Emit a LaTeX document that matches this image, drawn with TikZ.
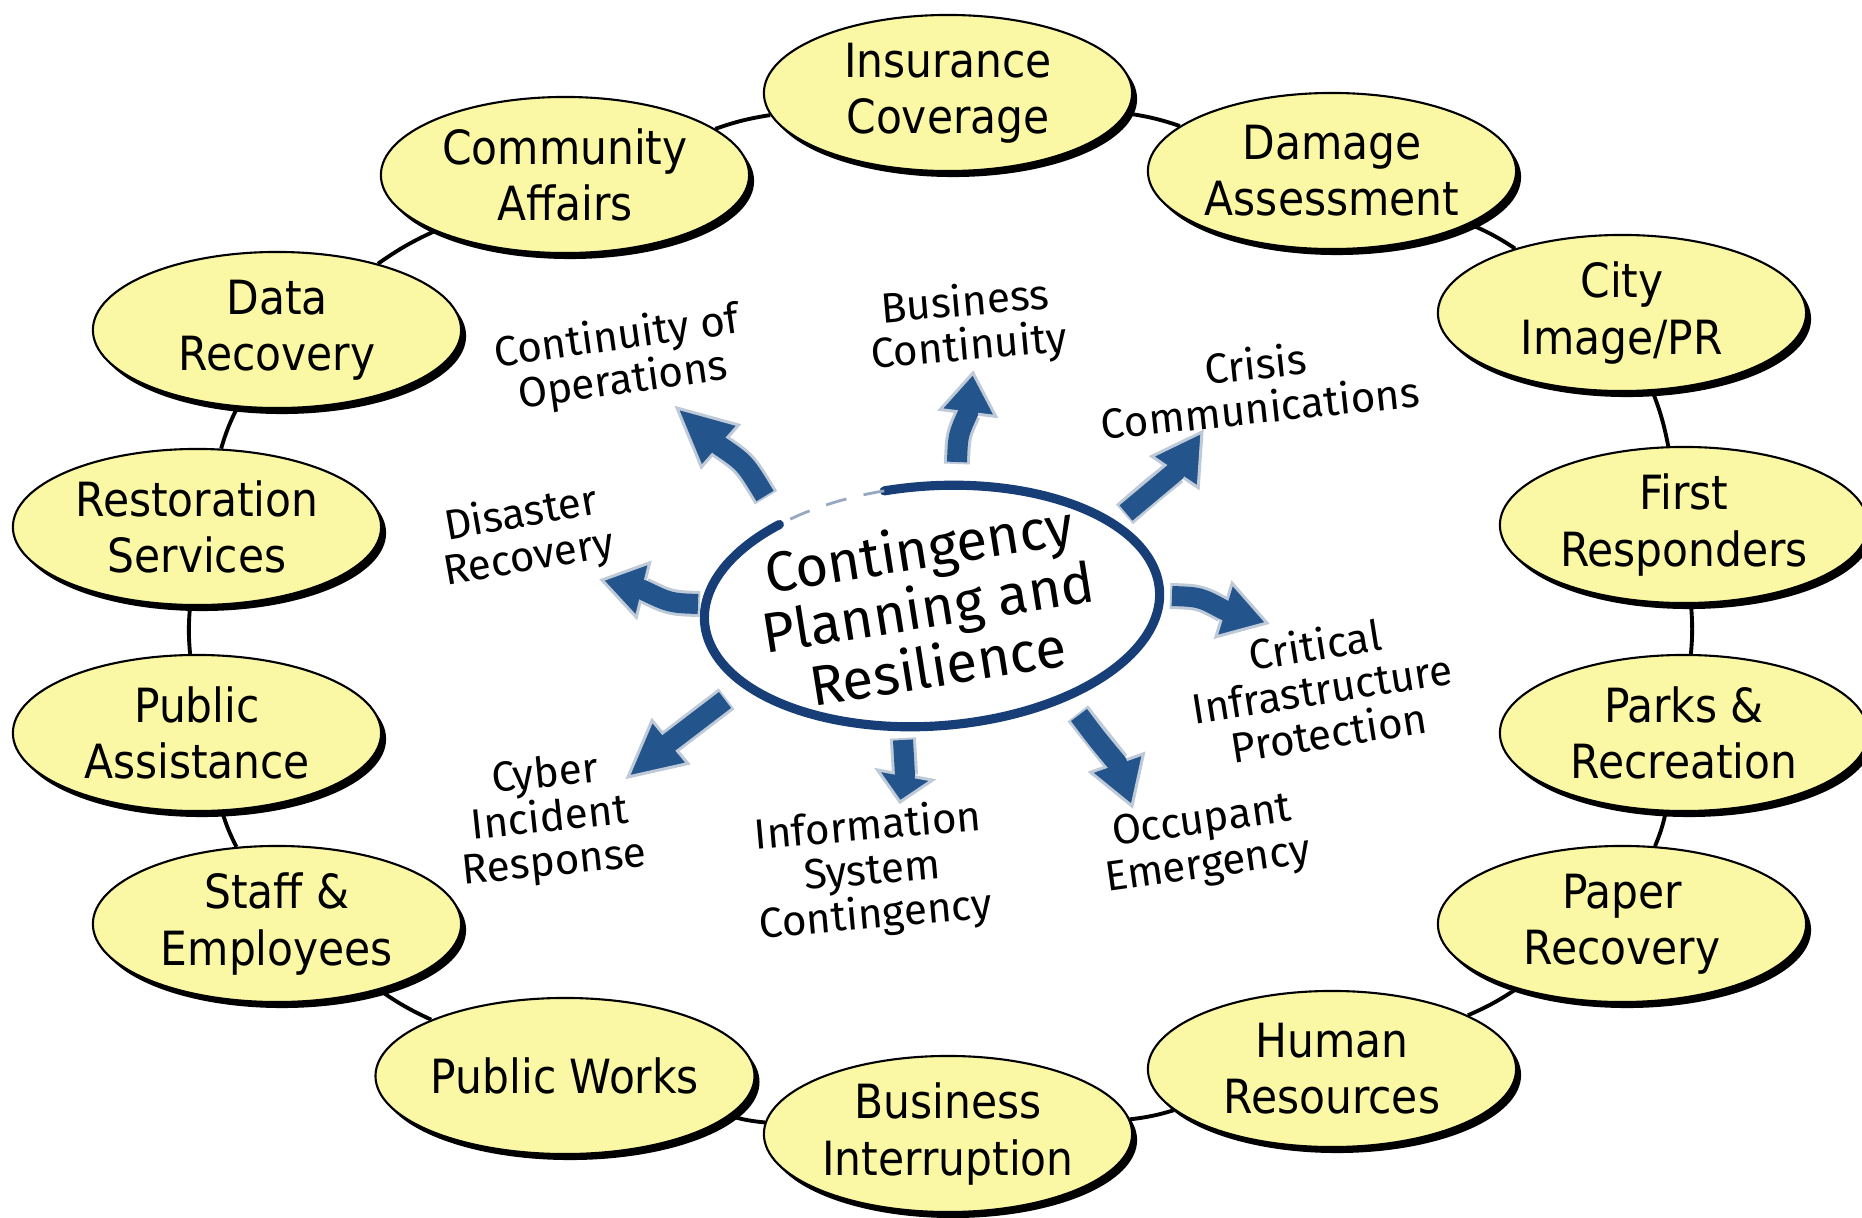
\documentclass[tikz,border=0pt]{standalone}
\usepackage{fontspec}
\setmainfont{DejaVu Sans Condensed}
\newfontfamily\handfont{Fira Sans}
\usetikzlibrary{shapes.geometric,shadows,calc,backgrounds}

\definecolor{bubblefill}{RGB}{250,248,165}
\definecolor{arrowblue}{RGB}{36,84,140}
\definecolor{arrowedge}{RGB}{190,202,215}
\definecolor{hubnavy}{RGB}{24,62,120}

\tikzset{
  bubble/.style={ellipse, draw=black, line width=0.6pt, fill=bubblefill,
    minimum width=3.68cm, minimum height=1.56cm, inner sep=0pt, align=center,
    font=\fontsize{13.4}{16}\selectfont,
    drop shadow={shadow xshift=0.05cm, shadow yshift=-0.06cm, fill=black, opacity=1}},
  ringlink/.style={line width=1.1pt, black, bend left=5},
  hand/.style={align=center, inner sep=0pt, font=\handfont\fontsize{12}{12.6}\selectfont},
}

% curved block arrow: tail, control, head base, tip
\newcommand\blockarrow[4]{%
  \coordinate (bt) at #1;
  \coordinate (bc) at #2;
  \coordinate (bb) at #3;
  \coordinate (bp) at #4;
  \draw[arrowedge, line width=0.26cm, shorten <=-0.02cm] (bt) .. controls (bc) .. (bb);
  \filldraw[fill=arrowblue, draw=arrowedge, line width=0.03cm, line join=miter]
    ($(bb)!0.28cm!90:(bp)$) -- (bp) -- ($(bb)!0.28cm!-90:(bp)$) -- cycle;
  \draw[arrowblue, line width=0.2cm] (bt) .. controls (bc) .. (bb) -- ($(bb)!0.05cm!(bp)$);
}

\begin{document}
\begin{tikzpicture}[x=0.01cm, y=0.01cm]
\useasboundingbox (0,0) rectangle (1862,-1218);

% outer ring of topics
\node[bubble] (ins)   at (948,-93)   {Insurance\\Coverage};
\node[bubble] (dmg)   at (1332,-171) {Damage\\Assessment};
\node[bubble] (city)  at (1622,-313) {City\\Image/PR};
\node[bubble] (first) at (1684,-525) {First\\Responders};
\node[bubble] (parks) at (1684,-733) {Parks \&\\Recreation};
\node[bubble] (paper) at (1622,-924) {Paper\\Recovery};
\node[bubble] (hr)    at (1332,-1069) {Human\\Resources};
\node[bubble] (bi)    at (948,-1134) {Business\\Interruption};
\node[bubble] (pw)    at (565,-1076) {Public Works};
\node[bubble] (staff) at (277,-924)  {Staff \&\\Employees};
\node[bubble] (pa)    at (197,-733)  {Public\\Assistance};
\node[bubble] (rest)  at (197,-527)  {Restoration\\Services};
\node[bubble] (data)  at (277,-330)  {Data\\Recovery};
\node[bubble] (comm)  at (565,-175)  {Community\\Affairs};

\begin{scope}[on background layer]
  \fill[white] (0,0) rectangle (1862,-1218);
  \foreach \a/\b in {ins/dmg, dmg/city, city/first, first/parks, parks/paper,
                     paper/hr, hr/bi, bi/pw, pw/staff, staff/pa, pa/rest,
                     rest/data, data/comm, comm/ins}
    \draw[ringlink] (\a) to (\b);
\end{scope}

% central hand-drawn loop
\begin{scope}[shift={(932,-606)}, rotate=4]
  \draw[hubnavy, line width=2.6pt, line cap=round]
    (100:228 and 120) arc[start angle=100, end angle=-230, x radius=228, y radius=120];
  \draw[hubnavy!45, line width=0.8pt, dash pattern=on 6pt off 5pt]
    (100:228 and 120) arc[start angle=100, end angle=130, x radius=228, y radius=120];
\end{scope}
\node[rotate=9, align=center, inner sep=0pt,
      font=\handfont\fontsize{16}{15.5}\selectfont] (core) at (928,-606)
  {Contingency\\Planning and\\Resilience};

% arrows radiating from the centre
\blockarrow{(765,-496)}{(745,-463)}{(720,-446)}{(677,-408)}
\blockarrow{(957,-462)}{(958,-435)}{(968,-413)}{(973,-373)}
\blockarrow{(1126,-513)}{(1150,-492)}{(1175,-472)}{(1202,-432)}
\blockarrow{(1172,-596)}{(1200,-597)}{(1224,-610)}{(1267,-623)}
\blockarrow{(1079,-715)}{(1097,-739)}{(1117,-763)}{(1132,-806)}
\blockarrow{(903,-740)}{(904,-758)}{(905,-775)}{(900,-802)}
\blockarrow{(725,-700)}{(698,-721)}{(670,-742)}{(628,-777)}
\blockarrow{(698,-604)}{(670,-603)}{(643,-590)}{(602,-580)}

% handwritten labels
\node[hand, rotate=8]  (coop)  at (620,-360)  {Continuity of\\Operations};
\node[hand, rotate=5]  (bcont) at (967,-326)  {Business\\Continuity};
\node[hand, rotate=6]  (crisis) at (1258,-385) {Crisis\\Communications};
\node[hand, rotate=9]  (cip)   at (1322,-688) {Critical\\Infrastructure\\Protection};
\node[hand, rotate=8]  (occ)   at (1205,-845) {Occupant\\Emergency};
\node[hand, rotate=5]  (isc)   at (872,-872)  {Information\\System\\Contingency};
\node[hand, rotate=6]  (cyber) at (550,-820)  {Cyber\\Incident\\Response};
\node[hand, rotate=10] (dr)    at (525,-537)  {Disaster\\Recovery};
\end{tikzpicture}
\end{document}
